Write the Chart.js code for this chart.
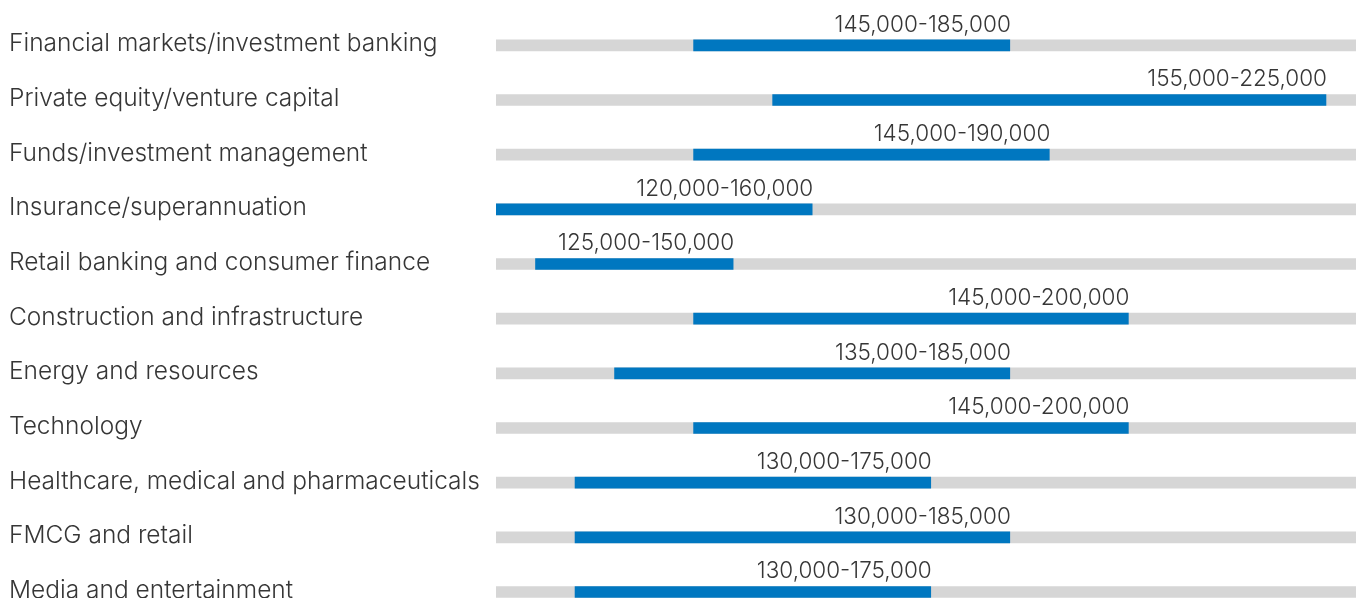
<!DOCTYPE html>
<html>
<head>
<meta charset="utf-8">
<title>Salary ranges by sector</title>
<script src="https://cdn.jsdelivr.net/npm/chart.js@4/dist/chart.umd.min.js"></script>
<style>
  html, body { margin: 0; padding: 0; background: #fff; overflow: hidden; }
  canvas { display: block; }
</style>
</head>
<body>
<canvas id="ranges" width="1356" height="637"></canvas>
<script>
// Sectors and salary bands
const sectors = [
  "Financial markets/investment banking",
  "Private equity/venture capital",
  "Funds/investment management",
  "Insurance/superannuation",
  "Retail banking and consumer finance",
  "Construction and infrastructure",
  "Energy and resources",
  "Technology",
  "Healthcare, medical and pharmaceuticals",
  "FMCG and retail",
  "Media and entertainment",
];
const salaryLow = [145000, 155000, 145000, 120000, 125000, 145000, 135000, 145000, 130000, 130000, 130000];
const salaryHigh = [185000, 225000, 190000, 160000, 150000, 200000, 185000, 200000, 175000, 185000, 175000];

// Scale bounds for the grey track behind each band
const axisMin = 120000;
const axisMax = 228800;

const fmt = (v) => v.toLocaleString("en-US");

// Range text above the right end of each blue band
const rangeLabels = {
  id: "rangeLabels",
  afterDatasetsDraw(chart) {
    const { ctx } = chart;
    const meta = chart.getDatasetMeta(0);
    ctx.save();
    ctx.font = "300 22.5px Inter";
    ctx.fillStyle = "#363636";
    ctx.textAlign = "right";
    ctx.textBaseline = "alphabetic";
    meta.data.forEach((bar, i) => {
      const top = bar.y - bar.height / 2;
      ctx.fillText(fmt(salaryLow[i]) + "-" + fmt(salaryHigh[i]), bar.x + 1, top - 8);
    });
    ctx.restore();
  },
};

new Chart(document.getElementById("ranges"), {
  type: "bar",
  data: {
    labels: sectors,
    datasets: [
      {
        label: "Salary range",
        data: sectors.map((s, i) => [salaryLow[i], salaryHigh[i]]),
        backgroundColor: "#0077c0",
        barThickness: 11,
        grouped: false,
        order: 0,
      },
      {
        label: "Track",
        data: sectors.map(() => [axisMin, axisMax]),
        backgroundColor: "#d6d6d6",
        barThickness: 11,
        grouped: false,
        order: 1,
      },
    ],
  },
  options: {
    indexAxis: "y",
    responsive: false,
    animation: false,
    layout: {
      padding: { top: 18, left: 9, right: 0, bottom: 0 },
    },
    scales: {
      x: {
        display: false,
        min: axisMin,
        max: axisMax,
      },
      y: {
        grid: { display: false },
        border: { display: false },
        ticks: {
          crossAlign: "far",
          labelOffset: -1.5,
          color: "#363636",
          font: { family: "Inter", size: 24.5, weight: 300 },
        },
        afterFit: (scale) => {
          scale.width = 487;
        },
      },
    },
    plugins: {
      legend: { display: false },
      tooltip: { enabled: false },
    },
  },
  plugins: [rangeLabels],
});
</script>
</body>
</html>
